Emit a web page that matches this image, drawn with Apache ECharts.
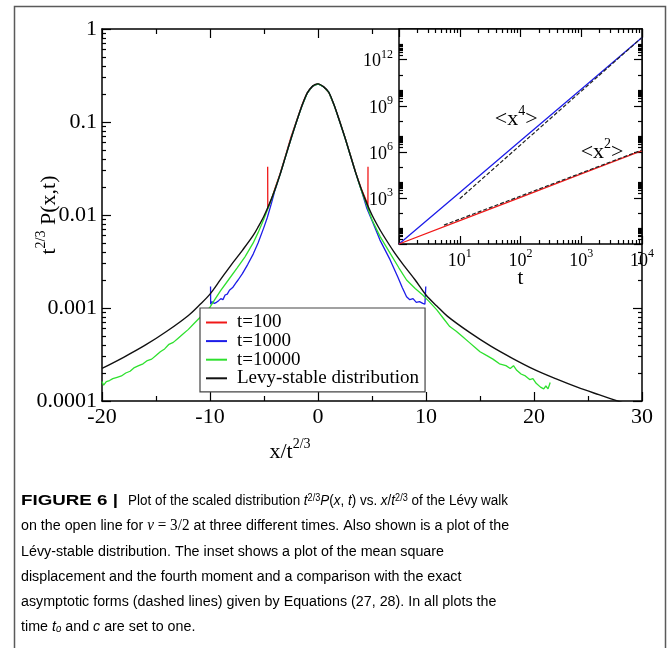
<!DOCTYPE html>
<html>
<head>
<meta charset="utf-8">
<script src="https://cdn.jsdelivr.net/npm/echarts@6/dist/echarts.min.js"></script>
<style>
  html, body { margin: 0; padding: 0; background: #fff; }
  #chart { width: 667px; height: 648px; }
</style>
</head>
<body>
<div id="chart"></div>
<script>
// ---- main panel: scaled distribution t^{2/3} P(x,t) against x / t^{2/3} ----
const levyX = [-20, -18, -16, -14, -12, -11, -10, -9, -8, -7, -6, -5.5, -5, -4.5, -4, -3.5, -3, -2.5, -2, -1.5,
  -1, -0.5, 0, 0.5, 1, 1.5, 2, 2.5, 3, 3.5, 4, 4.5, 5, 5.5, 6, 7, 8, 9, 10, 11,
  12, 14, 16, 18, 20, 22, 24, 26, 28, 30];
const levyY = [2.24e-4, 2.95e-4, 3.98e-4, 5.62e-4, 8.32e-4, 1.07e-3, 1.41e-3, 2.04e-3, 2.95e-3, 4.17e-3,
  6.03e-3, 7.59e-3, 9.77e-3, 1.32e-2, 1.86e-2, 2.75e-2, 4.27e-2, 6.61e-2, 0.100, 0.148,
  0.204, 0.243, 0.257, 0.240, 0.209, 0.151, 0.102, 6.76e-2, 4.37e-2, 2.82e-2,
  1.91e-2, 1.35e-2, 1.00e-2, 7.76e-3, 6.17e-3, 4.07e-3, 2.82e-3, 2.00e-3, 1.38e-3, 1.05e-3,
  8.13e-4, 5.50e-4, 3.89e-4, 2.88e-4, 2.19e-4, 1.74e-4, 1.41e-4, 1.17e-4, 9.77e-5, 8.13e-5];

const t100X = [-4.66, -4.65, -4.55, -4.3, -4, -3.5, -3, -2.5, -2, -1.5, -1, -0.5, 0, 0.5, 1, 1.5, 2, 2.5, 3, 3.5,
  4, 4.3, 4.55, 4.62, 4.63];
const t100Y = [3.31e-2, 1.17e-2, 1.26e-2, 1.48e-2, 1.91e-2, 2.82e-2, 4.37e-2, 6.92e-2, 0.102, 0.151,
  0.206, 0.243, 0.259, 0.241, 0.207, 0.151, 0.103, 6.84e-2, 4.42e-2, 2.85e-2,
  1.93e-2, 1.59e-2, 1.35e-2, 1.15e-2, 3.31e-2];

const t1000X = [-9.95, -9.94, -9.8, -9.6, -9.4, -9.2, -9.0, -8.8, -8.6, -8.4, -8.2, -7.9, -7.6, -7.4, -7.0,
  -6.5, -6.0, -5.55, -5.0, -4.7, -4.3, -4.0, -3.5, -3, -2.5, -2, -1.5, -1, -0.5, 0,
  0.5, 1, 1.5, 2, 2.5, 3, 3.5, 4, 4.5, 5, 5.74, 6.67, 7.4, 7.8, 8.2, 8.5, 8.8, 9.1, 9.4, 9.7,
  9.9, 9.97, 9.98];
const t1000Y = [1.70e-3, 1.10e-3, 1.17e-3, 1.12e-3, 1.15e-3, 1.20e-3, 1.26e-3, 1.23e-3, 1.38e-3, 1.41e-3,
  1.55e-3, 1.66e-3, 1.86e-3, 2.00e-3, 2.34e-3, 2.95e-3, 3.80e-3, 5.01e-3, 7.41e-3, 9.33e-3,
  1.35e-2, 1.82e-2, 2.75e-2, 4.27e-2, 6.61e-2, 0.100, 0.148, 0.204, 0.243, 0.257,
  0.240, 0.209, 0.151, 0.102, 6.76e-2, 4.37e-2, 2.82e-2, 1.86e-2, 1.20e-2, 8.71e-3,
  5.37e-3, 3.31e-3, 2.14e-3, 1.66e-3, 1.32e-3, 1.23e-3, 1.26e-3, 1.15e-3, 1.17e-3, 1.12e-3,
  1.10e-3, 1.15e-3, 1.70e-3];

const t10000X = [-20.0, -19.85, -19.6, -19.3, -19.0, -18.6, -18.2, -17.8, -17.4, -17.0,
  -16.6, -16.2, -15.8, -15.4, -15.0, -14.6, -14.2, -13.8, -13.4, -13.0,
  -12.5, -12.0, -11.5, -11.0, -10.5, -10.0, -9.5, -9.0, -8.3, -7.5,
  -6.76, -6.0, -5.55, -5.0, -4.5, -4.0, -3.5, -3, -2.5, -2, -1.5, -1, -0.5, 0,
  0.5, 1, 1.5, 2, 2.5, 3, 3.5, 4.0, 4.5, 5.0, 5.74, 6.67, 7.5, 8.2,
  9.0, 9.7, 10.3, 11.0, 11.6, 12.2, 12.8, 13.4, 14.0, 14.6,
  15.0, 15.6, 16.2, 16.8, 17.4, 17.8, 18.1, 18.4, 18.8, 19.2,
  19.6, 19.9, 20.2, 20.6, 20.9, 21.1, 21.3, 21.5];
const t10000Y = [1.62e-4, 1.48e-4, 1.62e-4, 1.66e-4, 1.74e-4, 1.80e-4, 1.86e-4, 2.00e-4, 2.09e-4, 2.29e-4,
  2.40e-4, 2.51e-4, 2.72e-4, 2.82e-4, 3.09e-4, 3.39e-4, 3.63e-4, 4.07e-4, 4.27e-4, 4.68e-4,
  5.25e-4, 5.89e-4, 6.76e-4, 7.76e-4, 8.91e-4, 1.02e-3, 1.26e-3, 1.55e-3, 2.00e-3, 2.69e-3,
  3.55e-3, 5.01e-3, 6.46e-3, 9.12e-3, 1.29e-2, 1.86e-2, 2.75e-2, 4.27e-2, 6.61e-2, 0.100, 0.148, 0.204, 0.243, 0.257,
  0.240, 0.209, 0.151, 0.102, 6.76e-2, 4.37e-2, 2.82e-2, 1.86e-2, 1.29e-2, 8.91e-3, 5.89e-3, 3.89e-3, 2.69e-3, 2.00e-3,
  1.62e-3, 1.38e-3, 1.17e-3, 9.55e-4, 7.76e-4, 6.31e-4, 5.62e-4, 4.90e-4, 4.27e-4, 3.72e-4,
  3.39e-4, 3.09e-4, 2.82e-4, 2.51e-4, 2.40e-4, 2.24e-4, 2.40e-4, 2.14e-4, 1.95e-4, 1.86e-4,
  1.70e-4, 1.74e-4, 1.55e-4, 1.41e-4, 1.35e-4, 1.45e-4, 1.35e-4, 1.58e-4];

const seriesNames = ['t=100', 't=1000', 't=10000', 'Levy-stable distribution'];
const yTickLabels = ['0.0001', '0.001', '0.01', '0.1', '1'];

// ---- inset: moments against t ----
const insetT = [1, 10, 100, 1000, 10000];
const secondMoment = [1, 33.1, 1096, 3.63e4, 1.20e6];
const fourthMoment = [1, 2291, 5.25e6, 1.20e10, 2.82e13];
const x4AsymptoteT = [10, 10000];
const x4Asymptote = [891, 2.82e13];
const x2AsymptoteT = [5.5, 10000];
const x2Asymptote = [17.0, 1.32e6];

const SERIF = "'Liberation Serif', 'Times New Roman', serif";
const SANS = "'Liberation Sans', Arial, sans-serif";
const RED = '#f01818', BLUE = '#1c1ce8', GREEN = '#2ee02e', INK = '#000';

const zip = (xs, ys) => xs.map((x, i) => [x, ys[i]]);
const tickStyle = { color: INK, width: 1.2 };
const lineStyleAxis = { color: INK, width: 1.5 };

// minor tick positions for the log axes
const mainYMinorVals = [];
for (let e = -4; e <= -1; e++) for (let k = 2; k <= 9; k++) mainYMinorVals.push(+(k * Math.pow(10, e)).toPrecision(3));
const insetXMinorVals = [];
for (let e = 0; e <= 3; e++) for (let k = 2; k <= 9; k++) insetXMinorVals.push(k * Math.pow(10, e));
const insetYMajorVals = [1, 1e3, 1e6, 1e9, 1e12];
const insetYMinorVals = [1e1, 1e2, 1e4, 1e5, 1e7, 1e8, 1e10, 1e11, 1e13];
for (const m of [0, 3, 6, 9, 12]) for (let k = 2; k <= 9; k++) insetYMinorVals.push(k * Math.pow(10, m));

const supRich = (big, small) => ({
  b: { fontFamily: SERIF, fontSize: big, color: INK, lineHeight: big + 4, verticalAlign: 'bottom' },
  s: { fontFamily: SERIF, fontSize: small, color: INK, lineHeight: small, verticalAlign: 'top' }
});

function mainX(pos, showLabel) {
  const ax = {
    gridIndex: 0, type: 'value', position: pos, min: -20, max: 30, interval: 10,
    axisLine: { show: true, onZero: false, lineStyle: lineStyleAxis },
    axisTick: { show: true, inside: true, length: 9, lineStyle: tickStyle },
    minorTick: { show: true, splitNumber: 2, length: 5, lineStyle: tickStyle },
    axisLabel: { show: showLabel, fontFamily: SERIF, fontSize: 22, color: INK, margin: 5, showMinLabel: true, showMaxLabel: true },
    splitLine: { show: false }, minorSplitLine: { show: false }
  };
  if (showLabel) {
    Object.assign(ax, {
      name: '{b|x/t}{s|2/3}', nameLocation: 'middle', nameGap: 36, nameMoveOverlap: false,
      nameTextStyle: { rich: supRich(22, 14), padding: [0, 164, 0, 0] }
    });
  }
  return ax;
}
function mainY(pos, showLabel) {
  const ax = {
    gridIndex: 0, type: 'log', logBase: 10, position: pos, min: 1e-4, max: 1,
    axisLine: { show: true, onZero: false, lineStyle: lineStyleAxis },
    axisTick: { show: true, inside: true, length: 9, lineStyle: tickStyle },
    axisLabel: {
      show: showLabel, fontFamily: SERIF, fontSize: 22, color: INK, margin: 5,
      padding: [6, 0, 0, 0], showMinLabel: true, showMaxLabel: true,
      formatter: v => yTickLabels[Math.round(Math.log10(v)) + 4]
    },
    splitLine: { show: false }
  };
  if (showLabel) {
    Object.assign(ax, {
      name: '{b|t}{s|2/3}{b| P(x,t)}', nameLocation: 'middle', nameGap: 42, nameMoveOverlap: false,
      nameTextStyle: { rich: supRich(22, 14) }
    });
  }
  return ax;
}
function minorAxis(grid, type, pos, min, max, vals, z) {
  return {
    gridIndex: grid, type: type, position: pos, min: min, max: max, z: z,
    axisLine: { show: false, onZero: false }, axisLabel: { show: false }, splitLine: { show: false },
    axisTick: { show: true, inside: true, length: 4, lineStyle: tickStyle, customValues: vals }
  };
}
function insetX(pos, showLabel) {
  const ax = {
    gridIndex: 1, type: 'log', logBase: 10, position: pos, min: 1, max: 1e4, z: 3,
    axisLine: { show: true, onZero: false, lineStyle: lineStyleAxis },
    axisTick: { show: true, inside: true, length: 8, lineStyle: tickStyle },
    axisLabel: {
      show: showLabel, margin: 4, showMinLabel: true, showMaxLabel: true,
      formatter: v => v < 2 ? '' : '{b|10}{s|' + Math.round(Math.log10(v)) + '}',
      rich: supRich(18, 12)
    },
    splitLine: { show: false }
  };
  if (showLabel) {
    Object.assign(ax, {
      name: 't', nameLocation: 'middle', nameGap: 24, nameMoveOverlap: false,
      nameTextStyle: { fontFamily: SERIF, fontSize: 21, color: INK }
    });
  }
  return ax;
}
function insetY(pos, showLabel) {
  return {
    gridIndex: 1, type: 'log', logBase: 10, position: pos, min: 1, max: 1e14, z: 3,
    axisLine: { show: true, onZero: false, lineStyle: lineStyleAxis },
    axisTick: { show: true, inside: true, length: 8, lineStyle: tickStyle, customValues: insetYMajorVals },
    axisLabel: {
      show: showLabel, margin: 6, customValues: [1e3, 1e6, 1e9, 1e12],
      formatter: v => '{b|10}{s|' + Math.round(Math.log10(v)) + '}',
      rich: supRich(18, 12)
    },
    splitLine: { show: false }
  };
}

const momentLabel = (txt, sup, coord) => ({
  coord: coord,
  label: {
    show: true, position: 'inside',
    formatter: '{b|<' + txt + '}{s|' + sup + '}{b|>}',
    rich: supRich(22, 14)
  }
});

// caption typeset in a condensed sans: regular sans squeezed horizontally to the column width
const CAP_SIZE = 15.5, CAP_COLOR = '#3a3a3a';
const measureCtx = document.createElement('canvas').getContext('2d');
measureCtx.font = CAP_SIZE + 'px ' + SANS;
const capScale = 489 / measureCtx.measureText('on the open line for ν = 3/2 at three different times. Also shown is a plot of the').width;
measureCtx.font = 'bold ' + CAP_SIZE + 'px ' + SANS;
const headScale = 97 / measureCtx.measureText('FIGURE 6 |').width;

const capRich = {
  b: { fontFamily: SANS, fontSize: CAP_SIZE, fontWeight: 'bold', color: '#2a2a2a', lineHeight: 22, verticalAlign: 'bottom' },
  n: { fontFamily: SANS, fontSize: CAP_SIZE, color: CAP_COLOR, lineHeight: 22, verticalAlign: 'bottom' },
  i: { fontFamily: SANS, fontSize: CAP_SIZE, fontStyle: 'italic', color: CAP_COLOR, lineHeight: 22, verticalAlign: 'bottom' },
  m: { fontFamily: SERIF, fontSize: 16.5, fontStyle: 'italic', color: CAP_COLOR, lineHeight: 22, verticalAlign: 'bottom' },
  r: { fontFamily: SERIF, fontSize: 16.5, color: CAP_COLOR, lineHeight: 22, verticalAlign: 'bottom' },
  sup: { fontFamily: SANS, fontSize: 10.5, color: CAP_COLOR, verticalAlign: 'top', padding: [6, 0, 0, 0] },
  sub: { fontFamily: SANS, fontSize: 10.5, fontStyle: 'italic', color: CAP_COLOR, lineHeight: 11, verticalAlign: 'bottom' }
};
const captionHead = '{b|FIGURE 6 |}';
const captionLines = [
  '{n|Plot of the scaled distribution }{i|t}{sup|2/3}{i|P}{n|(}{i|x}{n|, }{i|t}{n|) vs. }{i|x}{n|/}{i|t}{sup|2/3}{n| of the Lévy walk}',
  '{n|on the open line for }{m|ν}{r| = 3/2}{n| at three different times. Also shown is a plot of the}',
  '{n|Lévy-stable distribution. The inset shows a plot of the mean square}',
  '{n|displacement and the fourth moment and a comparison with the exact}',
  '{n|asymptotic forms (dashed lines) given by Equations (27, 28). In all plots the}',
  '{n|time }{i|t}{sub|o}{n| and }{i|c}{n| are set to one.}'
];

const graphics = [{
  type: 'rect', left: 12, top: 4, silent: true,
  shape: { width: 651, height: 700 },
  style: { fill: 'none', stroke: '#5a5a5a', lineWidth: 1.5 }
}, {
  type: 'text', x: 21, y: 487, scaleX: headScale, silent: true,
  style: { text: captionHead, rich: capRich, verticalAlign: 'top', align: 'left' }
}];
captionLines.forEach((txt, i) => {
  graphics.push({
    type: 'text', x: i === 0 ? 128 : 21, y: 487 + i * 25.2,
    scaleX: i === 0 ? capScale * 0.943 : capScale, silent: true,
    style: { text: txt, rich: capRich, verticalAlign: 'top', align: 'left' }
  });
});

const chart = echarts.init(document.getElementById('chart'), null, { renderer: 'canvas' });
chart.setOption({
  animation: false,
  backgroundColor: '#fff',
  grid: [
    { left: 102, top: 29, width: 540, height: 372, containLabel: false, outerBoundsMode: 'none' },
    { left: 399, top: 29, width: 243, height: 215, containLabel: false, outerBoundsMode: 'none',
      show: true, backgroundColor: '#fff', borderWidth: 0, z: 1 }
  ],
  xAxis: [
    mainX('bottom', true),
    mainX('top', false),
    insetX('bottom', true),
    insetX('top', false),
    minorAxis(1, 'log', 'bottom', 1, 1e4, insetXMinorVals, 3),
    minorAxis(1, 'log', 'top', 1, 1e4, insetXMinorVals, 3)
  ],
  yAxis: [
    mainY('left', true),
    mainY('right', false),
    minorAxis(0, 'log', 'left', 1e-4, 1, mainYMinorVals, 0),
    minorAxis(0, 'log', 'right', 1e-4, 1, mainYMinorVals, 0),
    insetY('left', true),
    insetY('right', false),
    minorAxis(1, 'log', 'left', 1, 1e14, insetYMinorVals, 3),
    minorAxis(1, 'log', 'right', 1, 1e14, insetYMinorVals, 3)
  ],
  legend: {
    data: seriesNames, orient: 'vertical', left: 200, top: 308,
    padding: [5, 6, 4, 6], itemWidth: 21, itemHeight: 2, itemGap: -0.4, icon: 'rect',
    selectedMode: false, backgroundColor: '#fff', borderColor: '#444', borderWidth: 1.2, borderRadius: 0,
    textStyle: { fontFamily: SERIF, fontSize: 19, color: INK, lineHeight: 17, padding: [0, 0, 0, 5] }
  },
  series: [
    { name: seriesNames[0], type: 'line', xAxisIndex: 0, yAxisIndex: 0, data: zip(t100X, t100Y),
      showSymbol: false, symbol: 'none', lineStyle: { color: RED, width: 1.3 }, itemStyle: { color: RED } },
    { name: seriesNames[1], type: 'line', xAxisIndex: 0, yAxisIndex: 0, data: zip(t1000X, t1000Y),
      showSymbol: false, symbol: 'none', lineStyle: { color: BLUE, width: 1.3 }, itemStyle: { color: BLUE } },
    { name: seriesNames[2], type: 'line', xAxisIndex: 0, yAxisIndex: 0, data: zip(t10000X, t10000Y),
      showSymbol: false, symbol: 'none', lineStyle: { color: GREEN, width: 1.3 }, itemStyle: { color: GREEN } },
    { name: seriesNames[3], type: 'line', xAxisIndex: 0, yAxisIndex: 0, data: zip(levyX, levyY),
      showSymbol: false, symbol: 'none', smooth: 0.35, lineStyle: { color: '#111', width: 1.4 }, itemStyle: { color: '#111' } },

    { name: 'x4', type: 'line', xAxisIndex: 2, yAxisIndex: 4, data: zip(insetT, fourthMoment),
      showSymbol: false, symbol: 'none', lineStyle: { color: BLUE, width: 1.3 },
      markPoint: { symbol: 'circle', symbolSize: 1, silent: true, itemStyle: { color: 'rgba(0,0,0,0)' },
        data: [momentLabel('x', '4', [85, 1.9e8])] } },
    { name: 'x2', type: 'line', xAxisIndex: 2, yAxisIndex: 4, data: zip(insetT, secondMoment),
      showSymbol: false, symbol: 'none', lineStyle: { color: RED, width: 1.3 },
      markPoint: { symbol: 'circle', symbolSize: 1, silent: true, itemStyle: { color: 'rgba(0,0,0,0)' },
        data: [momentLabel('x', '2', [2200, 1.3e6])] } },
    { name: 'x4 asymptote', type: 'line', xAxisIndex: 2, yAxisIndex: 4, data: zip(x4AsymptoteT, x4Asymptote),
      showSymbol: false, symbol: 'none', lineStyle: { color: '#222', width: 1.2, type: [4, 2] } },
    { name: 'x2 asymptote', type: 'line', xAxisIndex: 2, yAxisIndex: 4, data: zip(x2AsymptoteT, x2Asymptote),
      showSymbol: false, symbol: 'none', lineStyle: { color: '#222', width: 1.2, type: [4, 2] } }
  ],
  graphic: graphics
});
</script>
</body>
</html>
